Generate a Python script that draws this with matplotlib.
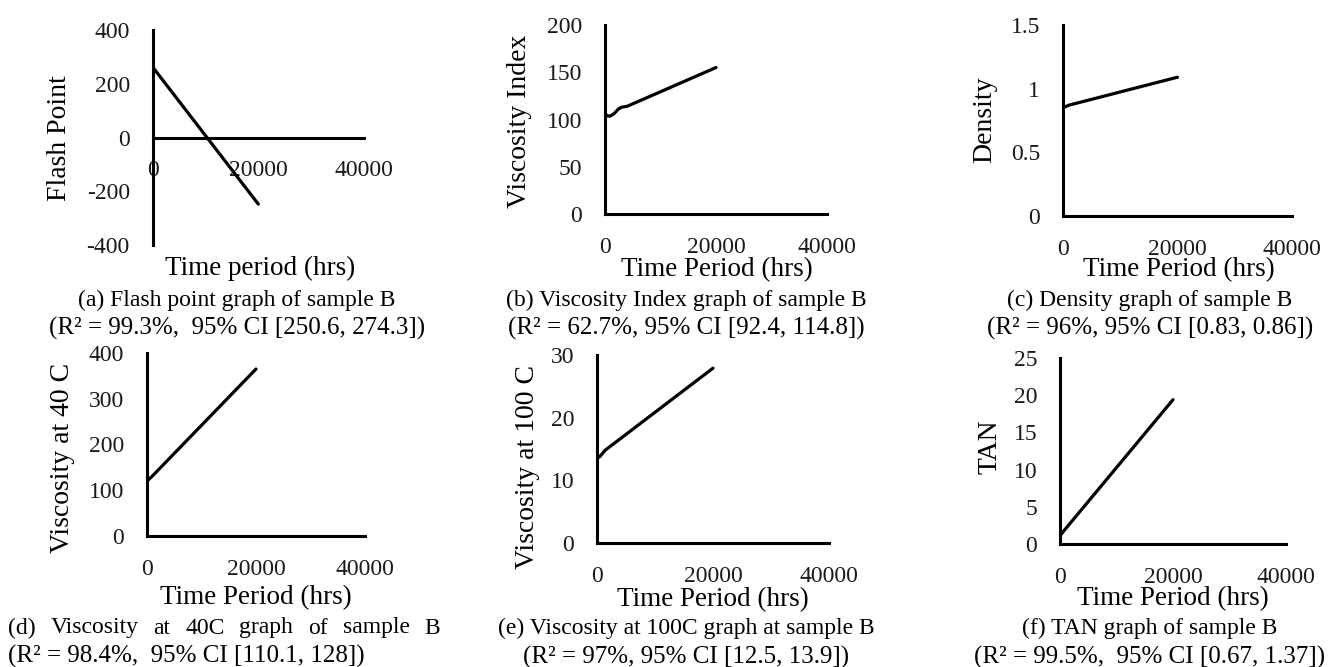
import matplotlib.pyplot as plt

plt.rcParams['font.family'] = ['Liberation Serif', 'DejaVu Serif']

W, H = 1338, 667

# ─── data ─────────────────────────────────────────────────────
x_ticks = [0, 20000, 40000]
x_tick_labels = ["0", "20000", "40000"]

a_hours = [0, 10000, 20000]
a_flash = [262, 7, -248]
a_yticks = [-400, -200, 0, 200, 400]

b_hours = [0, 400, 900, 1600, 2400, 3000, 4000, 20000]
b_vi = [106, 104, 103.5, 106, 111, 113, 114, 155]
b_yticks = [0, 50, 100, 150, 200]

c_hours = [0, 1000, 20000]
c_density = [0.85, 0.87, 1.09]
c_yticks = [0, 0.5, 1, 1.5]
c_ytick_labels = ["0", "0.5", "1", "1.5"]

d_hours = [0, 900, 20000]
d_visc40 = [120, 130, 365]
d_yticks = [0, 100, 200, 300, 400]

e_hours = [0, 500, 1400, 20000]
e_visc100 = [13.5, 13.8, 14.8, 27.9]
e_yticks = [0, 10, 20, 30]

f_hours = [0, 500, 20000]
f_tan = [1.1, 1.6, 19.4]
f_yticks = [0, 5, 10, 15, 20, 25]

fig = plt.figure(figsize=(W / 100, H / 100), dpi=100)


def fx(px):
    return px / W


def fy(py):
    return 1 - py / H


def panel(rect, x, y, ylim, yticks, ylabel, ylab_xy, xlabel, xlab_xy,
          ytick_labels=None, zero_axis=False):
    l, t, r, b = rect
    ax = fig.add_axes([fx(l), fy(b), (r - l) / W, (b - t) / H])
    ax.plot(x, y, color="black", lw=2.3, solid_capstyle="round",
            solid_joinstyle="round")
    ax.set_xlim(0, 40000)
    ax.set_ylim(*ylim)
    ax.set_xticks(x_ticks)
    ax.set_xticklabels(x_tick_labels)
    ax.set_yticks(yticks)
    ax.set_yticklabels(ytick_labels or [str(v) for v in yticks])
    for s in ["top", "right"]:
        ax.spines[s].set_visible(False)
    for s in ["left", "bottom"]:
        ax.spines[s].set_linewidth(2.2)
        ax.spines[s].set_color("black")
    if zero_axis:
        ax.spines["bottom"].set_position(("data", 0))
    ax.tick_params(length=0, pad=16.5, labelsize=17, colors="#1a1a1a")
    ax.patch.set_alpha(0)
    fig.text(fx(ylab_xy[0]), fy(ylab_xy[1]), ylabel, rotation=90,
             ha="center", va="center", fontsize=20)
    fig.text(fx(xlab_xy[0]), fy(xlab_xy[1]), xlabel,
             ha="center", va="center", fontsize=19.5)
    return ax


def caption(cx, y1, y2, line1, line2):
    fig.text(fx(cx), fy(y1), line1, ha="center", va="center", fontsize=17)
    fig.text(fx(cx), fy(y2), line2, ha="center", va="center", fontsize=18)


def justified(x0, x1, y, words, fontsize=17):
    # spread the words so the line fills x0..x1 (justified caption)
    r = fig.canvas.get_renderer()
    arts = [fig.text(0, fy(y), w, ha="left", va="center", fontsize=fontsize)
            for w in words]
    widths = [a.get_window_extent(r).width for a in arts]
    gap = (x1 - x0 - sum(widths)) / (len(words) - 1)
    pos = x0
    for a, w in zip(arts, widths):
        a.set_x(fx(pos))
        pos += w + gap


panel((152.7, 30, 364, 245), a_hours, a_flash, (-400, 400), a_yticks,
      "Flash Point", (60, 138), "Time period (hrs)", (260, 268),
      zero_axis=True)
caption(237, 300, 328, "(a) Flash point graph of sample B",
        "(R² = 99.3%,  95% CI [250.6, 274.3])")

panel((605, 25, 827, 214), b_hours, b_vi, (0, 200), b_yticks,
      "Viscosity Index", (520, 121), "Time Period (hrs)", (717, 270))
caption(686, 300, 328, "(b) Viscosity Index graph of sample B",
        "(R² = 62.7%, 95% CI [92.4, 114.8])")

panel((1063, 25, 1292, 216), c_hours, c_density, (0, 1.5), c_yticks,
      "Density", (985, 120), "Time Period (hrs)", (1179, 270),
      ytick_labels=c_ytick_labels)
caption(1150, 300, 328, "(c) Density graph of sample B",
        "(R² = 96%, 95% CI [0.83, 0.86])")

panel((147, 353, 365, 536), d_hours, d_visc40, (0, 400), d_yticks,
      "Viscosity at 40 C", (63, 458), "Time Period (hrs)", (256, 598))
justified(8, 440, 628, ["(d)", "Viscosity", "at", "40C", "graph", "of",
                        "sample", "B"])
fig.text(fx(8), fy(656), "(R² = 98.4%,  95% CI [110.1, 128])",
         ha="left", va="center", fontsize=18)

panel((597, 355, 829, 543), e_hours, e_visc100, (0, 30), e_yticks,
      "Viscosity at 100 C", (527, 467), "Time Period (hrs)", (713, 600))
caption(686, 628, 657, "(e) Viscosity at 100C graph at sample B",
        "(R² = 97%, 95% CI [12.5, 13.9])")

panel((1060, 358, 1286, 544), f_hours, f_tan, (0, 25), f_yticks,
      "TAN", (990, 447), "Time Period (hrs)", (1173, 599))
caption(1150, 628, 657, "(f) TAN graph of sample B",
        "(R² = 99.5%,  95% CI [0.67, 1.37])")

fig.savefig("out.png", dpi=100, facecolor="white")
